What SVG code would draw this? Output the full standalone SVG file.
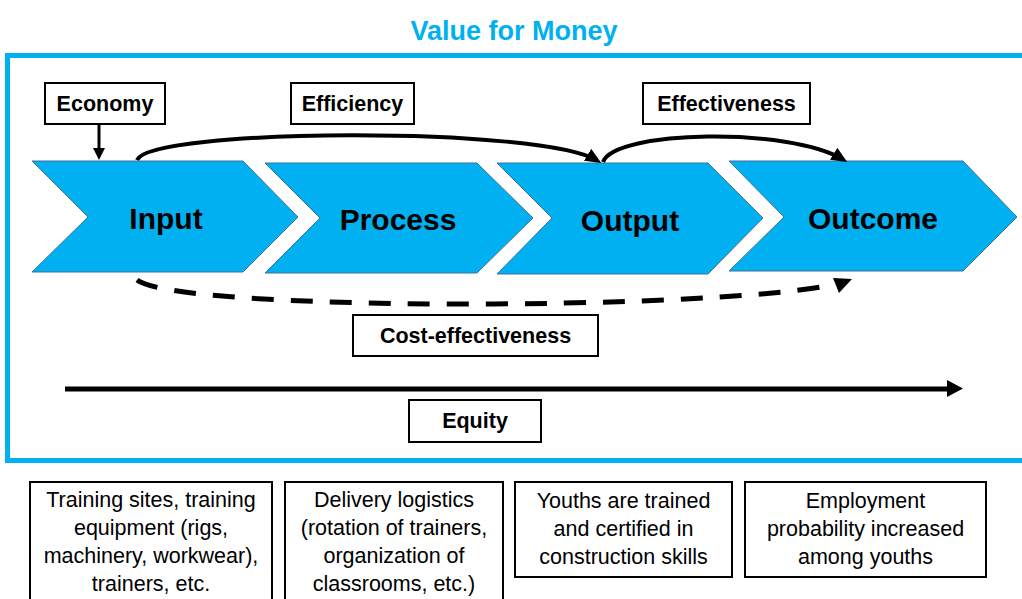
<svg xmlns="http://www.w3.org/2000/svg" width="1022" height="599" viewBox="0 0 1022 599">
  <style>
    .chev { fill: #00B0F0; stroke: #41719C; stroke-width: 1; }
    .box { fill: #FFFFFF; stroke: #000000; stroke-width: 2; }
    .lbl { font-family: "Liberation Sans", Arial, sans-serif; font-weight: bold; font-size: 21.5px; fill: #000; text-anchor: middle; }
    .big { font-family: "Liberation Sans", Arial, sans-serif; font-weight: bold; font-size: 30px; fill: #000; text-anchor: middle; }
    .desc { font-family: "Liberation Sans", Arial, sans-serif; font-size: 21.5px; fill: #000; text-anchor: middle; }
    .title { font-family: "Liberation Sans", Arial, sans-serif; font-weight: bold; font-size: 27px; fill: #00B0F0; text-anchor: middle; }
    .conn { fill: none; stroke: #000; }
  </style>
  <defs>
    <marker id="ah" markerUnits="userSpaceOnUse" markerWidth="16" markerHeight="14" refX="11" refY="7" orient="auto">
      <path d="M0,0 L16,7 L0,14 z" fill="#000"/>
    </marker>
    <marker id="ahs" markerUnits="userSpaceOnUse" markerWidth="12" markerHeight="12" refX="8" refY="6" orient="auto">
      <path d="M0,0 L12,6 L0,12 z" fill="#000"/>
    </marker>
  </defs>

  <rect width="1022" height="599" fill="#FFFFFF"/>

  <text class="title" x="514" y="40">Value for Money</text>
  <rect id="frame" x="7.5" y="55.5" width="1030" height="405" fill="none" stroke="#00B0F0" stroke-width="5"/>

  <g id="input">
    <polygon class="chev" points="32,161 243,161 298,217 243,272 32,272 88,217"/>
    <text class="big" x="166" y="229">Input</text>
  </g>
  <g id="process">
    <polygon class="chev" points="265,163 477,163 533,218 477,273 265,273 320,218"/>
    <text class="big" x="398" y="230">Process</text>
  </g>
  <g id="output">
    <polygon class="chev" points="497,163 708,163 763,218 708,274 497,274 552,218"/>
    <text class="big" x="630" y="231">Output</text>
  </g>
  <g id="outcome">
    <polygon class="chev" points="729,161 963,161 1017,217 963,271 729,271 784,217"/>
    <text class="big" x="873" y="229">Outcome</text>
  </g>

  <g id="economy">
    <rect class="box" x="45" y="83" width="120" height="41"/>
    <text class="lbl" x="105" y="111">Economy</text>
  </g>
  <g id="efficiency">
    <rect class="box" x="291" y="83" width="123" height="41"/>
    <text class="lbl" x="352.5" y="111">Efficiency</text>
  </g>
  <g id="effectiveness">
    <rect class="box" x="643" y="83" width="167" height="41"/>
    <text class="lbl" x="726.5" y="111">Effectiveness</text>
  </g>
  <g id="cost-effectiveness">
    <rect class="box" x="353" y="315" width="245" height="41"/>
    <text class="lbl" x="475.5" y="343">Cost-effectiveness</text>
  </g>
  <g id="equity">
    <rect class="box" x="409" y="400" width="132" height="42"/>
    <text class="lbl" x="475" y="428">Equity</text>
  </g>

  <g id="connectors">
    <line class="conn" x1="99" y1="124" x2="99" y2="156" stroke-width="3" marker-end="url(#ahs)"/>
    <path class="conn" d="M137,160 C150,128 540,126 597,160.5" stroke-width="4" marker-end="url(#ah)"/>
    <path class="conn" d="M603,162 C615,130 790,127 843,159.5" stroke-width="4" marker-end="url(#ah)"/>
    <path class="conn" d="M137,280 C180,312 700,310 826,286" stroke-width="5" stroke-dasharray="22 17"/>
    <polygon points="833,278 852,279 839,293" fill="#000"/>
    <line class="conn" x1="65" y1="389" x2="950" y2="389" stroke-width="5"/>
    <polygon points="947,380 963,388.5 947,397" fill="#000"/>
  </g>

  <g id="desc-input">
    <rect class="box" x="30" y="482" width="242" height="130"/>
    <text class="desc" x="151" y="507">Training sites, training</text>
    <text class="desc" x="151" y="535">equipment (rigs,</text>
    <text class="desc" x="151" y="563">machinery, workwear),</text>
    <text class="desc" x="151" y="591">trainers, etc.</text>
  </g>
  <g id="desc-process">
    <rect class="box" x="285" y="482" width="218" height="130"/>
    <text class="desc" x="394" y="507">Delivery logistics</text>
    <text class="desc" x="394" y="535">(rotation of trainers,</text>
    <text class="desc" x="394" y="563">organization of</text>
    <text class="desc" x="394" y="591">classrooms, etc.)</text>
  </g>
  <g id="desc-output">
    <rect class="box" x="515" y="482" width="217" height="95"/>
    <text class="desc" x="623.5" y="508">Youths are trained</text>
    <text class="desc" x="623.5" y="536">and certified in</text>
    <text class="desc" x="623.5" y="564">construction skills</text>
  </g>
  <g id="desc-outcome">
    <rect class="box" x="745" y="482" width="241" height="95"/>
    <text class="desc" x="865.5" y="508">Employment</text>
    <text class="desc" x="865.5" y="536">probability increased</text>
    <text class="desc" x="865.5" y="564">among youths</text>
  </g>
</svg>
